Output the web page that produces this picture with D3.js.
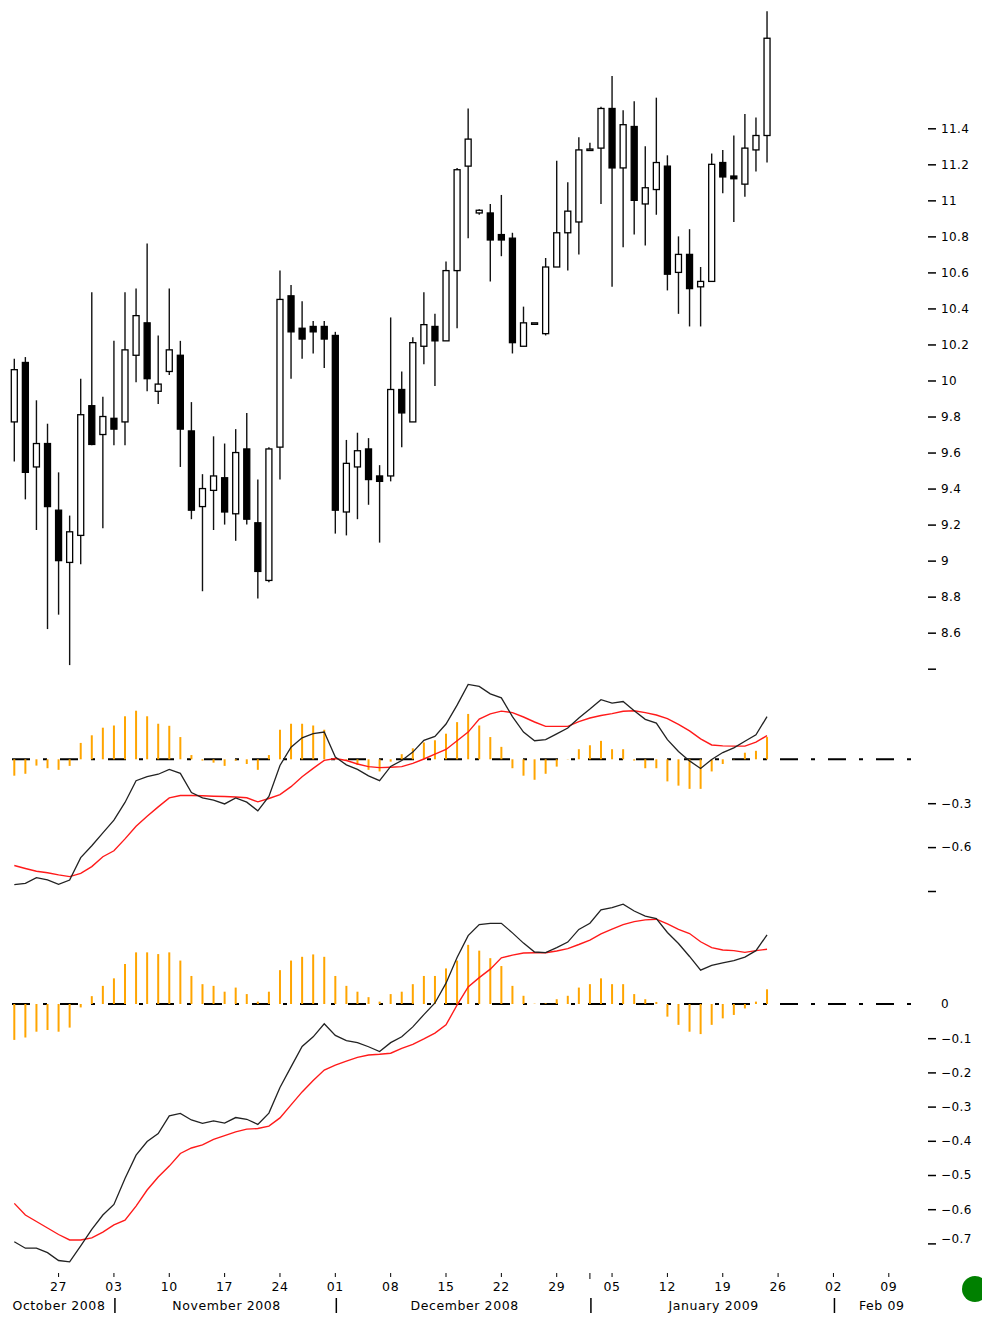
<!DOCTYPE html>
<html>
<head>
<meta charset="utf-8">
<script src="https://d3js.org/d3.v7.min.js"></script>
<style>
    body { margin: 0; background: #fff; }
    .domain { display: none; }
    .tick line { stroke: #000; stroke-width: 1.5px; }
    .tick text { font-family: "DejaVu Sans", sans-serif; font-size: 12px; letter-spacing: 0.4px; fill: #000; }
    .dates text { font-family: "DejaVu Sans", sans-serif; font-size: 12.5px; letter-spacing: 0.6px; fill: #000; }
</style>
</head>
<body></body>
<script>
    // daily candles, 21 Oct 2008 .. 23 Jan 2009 (every weekday)
    const openP  = [9.77, 10.10, 9.52, 9.65, 9.28, 8.99, 9.14, 9.86, 9.70, 9.79, 9.77, 10.14, 10.32, 9.94, 10.05, 10.14, 9.72, 9.30, 9.39, 9.46, 9.26, 9.62, 9.21, 8.89, 9.63, 10.47, 10.29, 10.30, 10.30, 10.25, 9.27, 9.52, 9.62, 9.47, 9.47, 9.95, 9.77, 10.19, 10.30, 10.22, 10.61, 11.19, 10.93, 10.93, 10.81, 10.79, 10.19, 10.32, 10.26, 10.63, 10.82, 10.88, 11.28, 11.29, 11.51, 11.18, 11.41, 10.98, 11.06, 11.19, 10.60, 10.70, 10.52, 10.55, 11.21, 11.135, 11.09, 11.28, 11.36];
    const highP  = [10.12, 10.13, 9.89, 9.76, 9.49, 9.25, 10.01, 10.49, 9.91, 10.22, 10.49, 10.51, 10.76, 10.25, 10.51, 10.22, 9.88, 9.48, 9.69, 9.65, 9.73, 9.82, 9.45, 9.63, 10.61, 10.53, 10.44, 10.33, 10.33, 10.27, 9.67, 9.71, 9.68, 9.53, 10.35, 10.05, 10.24, 10.49, 10.37, 10.66, 11.18, 11.51, 10.95, 10.98, 11.03, 10.82, 10.41, 10.32, 10.68, 11.22, 11.10, 11.35, 11.32, 11.52, 11.69, 11.50, 11.55, 11.30, 11.57, 11.25, 10.80, 10.84, 10.63, 11.26, 11.28, 11.36, 11.48, 11.46, 12.05];
    const lowP   = [9.55, 9.34, 9.17, 8.62, 8.70, 8.42, 8.98, 9.64, 9.18, 9.64, 9.64, 9.99, 9.94, 9.87, 10.03, 9.52, 9.23, 8.83, 9.17, 9.20, 9.11, 9.20, 8.79, 8.88, 9.45, 10.01, 10.12, 10.15, 10.07, 9.15, 9.14, 9.23, 9.31, 9.10, 9.44, 9.63, 9.77, 10.09, 9.97, 10.22, 10.29, 10.79, 10.92, 10.55, 10.69, 10.15, 10.19, 10.32, 10.25, 10.63, 10.61, 10.70, 11.28, 10.98, 10.52, 10.74, 10.81, 10.75, 10.92, 10.50, 10.37, 10.30, 10.30, 10.55, 11.04, 10.88, 11.02, 11.16, 11.21];
    const closeP = [10.06, 9.49, 9.65, 9.30, 9.00, 9.16, 9.81, 9.645, 9.80, 9.73, 10.17, 10.36, 10.01, 9.98, 10.17, 9.73, 9.28, 9.40, 9.47, 9.27, 9.60, 9.23, 8.94, 9.62, 10.45, 10.27, 10.23, 10.27, 10.23, 9.28, 9.54, 9.61, 9.45, 9.44, 9.95, 9.82, 10.21, 10.31, 10.22, 10.61, 11.17, 11.34, 10.945, 10.78, 10.78, 10.21, 10.32, 10.32, 10.63, 10.82, 10.94, 11.28, 11.285, 11.51, 11.18, 11.42, 11.00, 11.07, 11.21, 10.59, 10.70, 10.51, 10.55, 11.20, 11.13, 11.12, 11.29, 11.36, 11.90];

    // first MACD panel
    const macdA   = [-0.856, -0.848, -0.809, -0.824, -0.854, -0.825, -0.672, -0.591, -0.503, -0.416, -0.295, -0.146, -0.119, -0.102, -0.069, -0.096, -0.227, -0.264, -0.279, -0.305, -0.264, -0.293, -0.352, -0.254, -0.042, 0.083, 0.147, 0.175, 0.186, 0.016, -0.038, -0.069, -0.113, -0.146, -0.049, -0.008, 0.049, 0.130, 0.157, 0.241, 0.370, 0.512, 0.498, 0.447, 0.420, 0.292, 0.186, 0.127, 0.134, 0.174, 0.214, 0.282, 0.343, 0.407, 0.384, 0.395, 0.332, 0.273, 0.247, 0.134, 0.053, -0.011, -0.063, -0.001, 0.046, 0.078, 0.123, 0.167, 0.292];
    const signalA = [-0.726, -0.746, -0.765, -0.775, -0.790, -0.802, -0.780, -0.733, -0.666, -0.625, -0.544, -0.457, -0.389, -0.325, -0.264, -0.247, -0.247, -0.249, -0.252, -0.254, -0.258, -0.263, -0.291, -0.268, -0.241, -0.187, -0.119, -0.062, -0.007, 0.005, -0.008, -0.032, -0.050, -0.057, -0.054, -0.050, -0.028, 0.002, 0.036, 0.067, 0.127, 0.186, 0.275, 0.310, 0.329, 0.319, 0.289, 0.255, 0.225, 0.225, 0.225, 0.258, 0.282, 0.299, 0.312, 0.328, 0.332, 0.319, 0.303, 0.278, 0.238, 0.194, 0.140, 0.098, 0.092, 0.090, 0.090, 0.117, 0.162];
    const histA   = [-0.112, -0.099, -0.043, -0.061, -0.072, -0.045, 0.112, 0.164, 0.216, 0.231, 0.294, 0.332, 0.294, 0.243, 0.229, 0.152, 0.029, -0.009, -0.023, -0.045, -0.010, -0.032, -0.072, 0.029, 0.202, 0.243, 0.243, 0.231, 0.202, 0.005, -0.010, -0.038, -0.072, -0.083, -0.016, 0.035, 0.075, 0.115, 0.130, 0.175, 0.254, 0.310, 0.231, 0.152, 0.085, -0.061, -0.112, -0.140, -0.099, -0.050, 0.002, 0.069, 0.096, 0.126, 0.069, 0.069, -0.009, -0.061, -0.061, -0.151, -0.180, -0.202, -0.202, -0.083, -0.032, 0.002, 0.045, 0.058, 0.152];

    // second MACD panel
    const macdB   = [-0.695, -0.714, -0.714, -0.727, -0.750, -0.754, -0.707, -0.659, -0.617, -0.586, -0.510, -0.442, -0.402, -0.379, -0.327, -0.320, -0.339, -0.349, -0.342, -0.348, -0.332, -0.337, -0.352, -0.319, -0.244, -0.184, -0.124, -0.096, -0.058, -0.092, -0.107, -0.113, -0.125, -0.139, -0.113, -0.096, -0.067, -0.031, 0.003, 0.061, 0.136, 0.200, 0.232, 0.236, 0.236, 0.208, 0.178, 0.152, 0.150, 0.165, 0.181, 0.218, 0.236, 0.275, 0.282, 0.292, 0.272, 0.257, 0.250, 0.209, 0.177, 0.139, 0.099, 0.113, 0.120, 0.127, 0.137, 0.156, 0.202];
    const signalB = [-0.583, -0.617, -0.636, -0.655, -0.674, -0.690, -0.690, -0.684, -0.667, -0.646, -0.632, -0.591, -0.544, -0.506, -0.474, -0.437, -0.421, -0.412, -0.396, -0.385, -0.374, -0.366, -0.364, -0.357, -0.333, -0.295, -0.257, -0.224, -0.193, -0.179, -0.167, -0.156, -0.149, -0.147, -0.144, -0.130, -0.118, -0.102, -0.085, -0.061, -0.003, 0.050, 0.077, 0.102, 0.135, 0.143, 0.149, 0.150, 0.150, 0.155, 0.162, 0.174, 0.187, 0.205, 0.219, 0.232, 0.241, 0.246, 0.248, 0.234, 0.218, 0.206, 0.182, 0.165, 0.158, 0.156, 0.151, 0.156, 0.160];
    const histB   = [-0.105, -0.098, -0.081, -0.076, -0.081, -0.069, -0.010, 0.023, 0.053, 0.075, 0.117, 0.151, 0.151, 0.146, 0.151, 0.127, 0.082, 0.058, 0.053, 0.036, 0.048, 0.029, 0.007, 0.036, 0.099, 0.127, 0.138, 0.145, 0.138, 0.082, 0.053, 0.036, 0.020, 0.007, 0.029, 0.036, 0.058, 0.082, 0.082, 0.104, 0.127, 0.173, 0.156, 0.134, 0.111, 0.053, 0.024, 0.001, 0.002, 0.014, 0.024, 0.048, 0.058, 0.075, 0.058, 0.058, 0.029, 0.014, 0.006, -0.037, -0.061, -0.081, -0.088, -0.061, -0.042, -0.032, -0.013, 0.007, 0.043];

    const priceTicks = [8.4, 8.6, 8.8, 9, 9.2, 9.4, 9.6, 9.8, 10, 10.2, 10.4, 10.6, 10.8, 11, 11.2, 11.4];
    const ticksA = [-0.9, -0.6, -0.3];
    const ticksB = [-0.7, -0.6, -0.5, -0.4, -0.3, -0.2, -0.1, 0];
    const monthNames = ["October 2008", "November 2008", "December 2008", "January 2009", "Feb 09"];

    const width = 982, height = 1322;
    const svg = d3.select("body").append("svg").attr("width", width).attr("height", height);

    const start = new Date(2008, 9, 21);
    const dates = d3.timeDay.range(start, new Date(2009, 0, 24)).filter(d => d.getDay() % 6 !== 0);
    // position on a weekday axis
    const wIdx = d => d3.timeDay.count(start, d) - d3.timeSaturday.count(start, d) - d3.timeSunday.count(start, d);
    const x = d3.scaleLinear().domain([0, 79]).range([14.3, 888.8]);
    const xi = i => x(wIdx(dates[i]));

    const y = d3.scaleLinear().domain([8.4, 11.4]).range([668.7, 128.3]);
    const yA = d3.scaleLinear().domain([-0.9, 0]).range([891, 759.3]);
    const yB = d3.scaleLinear().domain([-0.7, 0]).range([1243.4, 1004]);

    // candles
    const candles = svg.append("g");
    candles.selectAll("line")
        .data(dates)
        .join("line")
        .attr("x1", (d, i) => xi(i)).attr("x2", (d, i) => xi(i))
        .attr("y1", (d, i) => y(highP[i])).attr("y2", (d, i) => y(lowP[i]))
        .attr("stroke", "#111").attr("stroke-width", 1.4);
    candles.selectAll("rect")
        .data(dates)
        .join("rect")
        .attr("x", (d, i) => xi(i) - 3)
        .attr("width", 6)
        .attr("y", (d, i) => y(Math.max(openP[i], closeP[i])))
        .attr("height", (d, i) => Math.max(1.5, Math.abs(y(openP[i]) - y(closeP[i]))))
        .attr("fill", (d, i) => closeP[i] >= openP[i] ? "#fff" : "#000")
        .attr("stroke", "#000").attr("stroke-width", 1.3);

    svg.append("g")
        .attr("transform", "translate(928,0)")
        .call(d3.axisRight(y).tickValues(priceTicks).tickSize(8).tickPadding(5)
            .tickFormat(d => d === 8.4 ? "" : String(+d.toFixed(1))));

    function macdPanel(ys, macd, signal, hist, ticks, labelled) {
        const g = svg.append("g");
        g.append("line")
            .attr("x1", 12).attr("x2", 924)
            .attr("y1", ys(0)).attr("y2", ys(0))
            .attr("stroke", "#000").attr("stroke-width", 2)
            .attr("stroke-dasharray", "18,13,4,13");
        g.selectAll(".bar")
            .data(hist)
            .join("line")
            .attr("class", "bar")
            .attr("x1", (d, i) => xi(i)).attr("x2", (d, i) => xi(i))
            .attr("y1", ys(0)).attr("y2", d => ys(d))
            .attr("stroke", "#ffa500").attr("stroke-width", 2);
        const line = d3.line().x((d, i) => xi(i)).y(d => ys(d));
        g.append("path").datum(signal).attr("d", line)
            .attr("fill", "none").attr("stroke", "#ff1a1a").attr("stroke-width", 1.4);
        g.append("path").datum(macd).attr("d", line)
            .attr("fill", "none").attr("stroke", "#222").attr("stroke-width", 1.3);
        const ax = svg.append("g")
            .attr("transform", "translate(928,0)")
            .call(d3.axisRight(ys).tickValues(ticks).tickSize(8).tickPadding(5)
                .tickFormat(d => labelled(d) ? d3.format("")(+d.toFixed(1)) : ""));
        return ax;
    }
    macdPanel(yA, macdA, signalA, histA, ticksA, d => d !== -0.9);
    const axB = macdPanel(yB, macdB, signalB, histB, ticksB, d => true);
    axB.selectAll(".tick").filter(d => d === 0).select("line").remove();
    axB.selectAll(".tick").filter(d => d === -0.7).select("text").attr("dy", "-0.1em");

    // date axis
    const dg = svg.append("g").attr("class", "dates");
    const mondays = d3.timeMonday.range(new Date(2008, 9, 27), new Date(2009, 1, 10));
    dg.selectAll(".wk")
        .data(mondays)
        .join("text")
        .attr("class", "wk")
        .attr("x", d => x(wIdx(d)))
        .attr("y", 1291)
        .attr("text-anchor", "middle")
        .text(d3.timeFormat("%d"));
    const firstDays = [new Date(2008, 10, 3), new Date(2008, 11, 1), new Date(2009, 0, 1), new Date(2009, 1, 2)];
    dg.selectAll(".mk")
        .data(mondays.concat([new Date(2009, 0, 1)]))
        .join("line")
        .attr("class", "mk")
        .attr("x1", d => x(wIdx(d))).attr("x2", d => x(wIdx(d)))
        .attr("y1", 1273).attr("y2", d => d.getDay() === 1 ? 1277 : 1279)
        .attr("stroke", "#000").attr("stroke-width", 1);
    dg.selectAll(".sep")
        .data(firstDays)
        .join("line")
        .attr("class", "sep")
        .attr("x1", d => x(wIdx(d)) + 1).attr("x2", d => x(wIdx(d)) + 1)
        .attr("y1", 1298).attr("y2", 1313)
        .attr("stroke", "#000").attr("stroke-width", 1.5);
    const edges = [0].concat(firstDays.map(d => x(wIdx(d)))).concat([926]);
    dg.selectAll(".mon")
        .data(monthNames)
        .join("text")
        .attr("class", "mon")
        .attr("x", (d, i) => (edges[i] + edges[i + 1]) / 2 + 2)
        .attr("y", 1310)
        .attr("text-anchor", "middle")
        .text(d => d);

    svg.append("circle")
        .attr("cx", 975).attr("cy", 1289).attr("r", 13)
        .attr("fill", "#008000");
</script>

</html>
